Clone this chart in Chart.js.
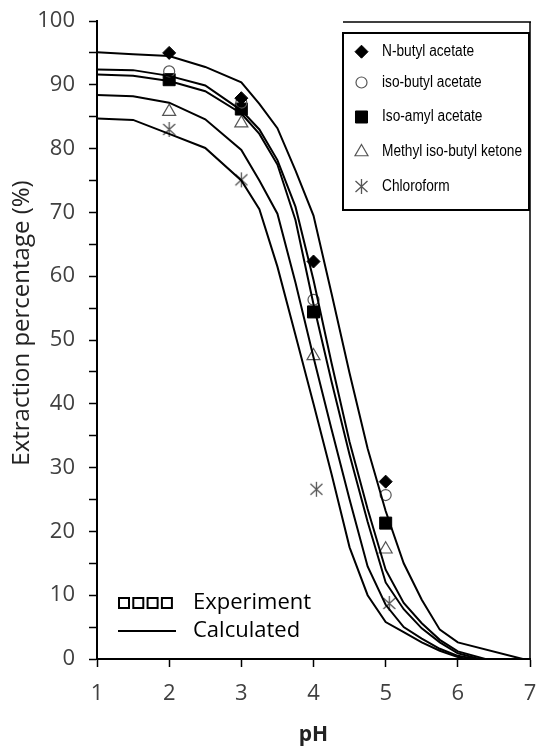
<!DOCTYPE html>
<html>
<head>
<meta charset="utf-8">
<script src="https://cdn.jsdelivr.net/npm/chart.js@4.4.1/dist/chart.umd.min.js"></script>
<style>
body{margin:0;background:#fff;overflow:hidden;}
#wrap{width:536px;height:747px;overflow:hidden;}
</style>
</head>
<body>
<div id="wrap"><canvas id="extractionChart" width="536" height="747"></canvas></div>
<script>
// solvents
const solvents = ['N-butyl acetate', 'iso-butyl acetate', 'Iso-amyl acetate', 'Methyl iso-butyl ketone', 'Chloroform'];

// experiment points
const expPH = [2, 3, 4, 5];
const expChloroPH = [2, 3, 4.04, 5.05];
const expNButyl = [95.0, 87.9, 62.3, 27.8];
const expIsoButyl = [92.1, 87.2, 56.3, 25.7];
const expIsoAmyl = [90.8, 86.2, 54.4, 21.3];
const expMIBK = [85.8, 84.0, 47.5, 17.2];
const expChloro = [83.0, 75.1, 26.6, 8.7];

// calculated curves
const calcPH = [1, 1.5, 2, 2.5, 3, 3.25, 3.5, 3.75, 4, 4.25, 4.5, 4.75, 5, 5.25, 5.5, 5.75, 6];
const calcNButyl = [95.1, 94.8, 94.5, 92.8, 90.4, 87.0, 83.2, 76.6, 69.5, 57.3, 44.8, 33.0, 23.2, 15.0, 9.3, 4.6, 2.6];
const calcIsoButyl = [92.4, 92.3, 91.4, 89.9, 86.0, 83.0, 78.2, 70.9, 59.4, 46.4, 34.0, 23.5, 14.0, 8.8, 5.6, 3.0, 1.2];
const calcIsoAmyl = [91.6, 91.4, 90.6, 89.0, 85.5, 82.3, 77.5, 68.8, 55.6, 43.5, 32.0, 21.5, 12.0, 7.8, 4.8, 2.6, 0.9];
const calcMIBK = [88.4, 88.2, 87.2, 84.6, 79.8, 75.0, 69.8, 59.0, 47.3, 36.0, 25.0, 14.5, 8.5, 5.0, 3.2, 1.6, 0.5];
const calcChloro = [84.7, 84.5, 82.3, 80.1, 75.0, 70.5, 61.5, 50.8, 40.0, 29.0, 17.5, 10.0, 5.8, 4.2, 2.6, 1.3, 0.3];
const calcZeroPH = [6.9, 6.38, 6.3, 6.25, 6.12];

// axis ticks
const xTicks = [1, 2, 3, 4, 5, 6, 7];
const yLabels = [0, 10, 20, 30, 40, 50, 60, 70, 80, 90, 100];

const grey = '#555555';

// asterisk marker (X + vertical bar)
function makeAsterisk(){
  let c = document.createElement('canvas');
  c.width = 17; c.height = 17;
  let g = c.getContext('2d');
  g.strokeStyle = grey;
  g.lineWidth = 1.3;
  g.beginPath();
  g.moveTo(2.5, 3); g.lineTo(14.5, 14);
  g.moveTo(14.5, 3); g.lineTo(2.5, 14);
  g.moveTo(8.5, 1); g.lineTo(8.5, 16);
  g.stroke();
  return c;
}
const asterisk = makeAsterisk();

const expSeries = [expNButyl, expIsoButyl, expIsoAmyl, expMIBK, expChloro];
const calcSeries = [calcNButyl, calcIsoButyl, calcIsoAmyl, calcMIBK, calcChloro];
const markerStyles = [
  {pointStyle: 'rectRot', pointRadius: 6.5, backgroundColor: '#000', borderColor: '#000', borderWidth: 1},
  {pointStyle: 'circle', pointRadius: 5.5, backgroundColor: 'rgba(0,0,0,0)', borderColor: grey, borderWidth: 1.2},
  {pointStyle: 'rect', pointRadius: 8.5, backgroundColor: '#000', borderColor: '#000', borderWidth: 1},
  {pointStyle: 'triangle', pointRadius: 7.5, backgroundColor: 'rgba(0,0,0,0)', borderColor: grey, borderWidth: 1.2},
  {pointStyle: asterisk, pointRadius: 8, backgroundColor: 'rgba(0,0,0,0)', borderColor: grey, borderWidth: 1}
];

let datasets = [];

calcSeries.forEach((vals, i) => {
  let pts = calcPH.map((p, k) => ({x: p, y: vals[k]}));
  pts.push({x: calcZeroPH[i], y: 0});
  datasets.push({
    label: solvents[i] + ' calc',
    data: pts,
    showLine: true,
    borderColor: '#000',
    borderWidth: 2,
    pointRadius: 0,
    tension: 0
  });
});

expSeries.forEach((vals, i) => {
  let xs = i == 4 ? expChloroPH : expPH;
  datasets.push(Object.assign({
    label: solvents[i],
    data: vals.map((v, k) => ({x: xs[k], y: v})),
    showLine: false
  }, markerStyles[i]));
});

// legend marker drawing
function drawMarker(ctx, i, x, y){
  let m = markerStyles[i];
  ctx.save();
  ctx.fillStyle = m.backgroundColor;
  ctx.strokeStyle = m.borderColor;
  ctx.lineWidth = m.borderWidth;
  let r = m.pointRadius;
  ctx.beginPath();
  if (m.pointStyle === 'rectRot') {
    ctx.moveTo(x - r, y); ctx.lineTo(x, y - r); ctx.lineTo(x + r, y); ctx.lineTo(x, y + r); ctx.closePath();
    ctx.fill(); ctx.stroke();
  } else if (m.pointStyle === 'circle') {
    ctx.arc(x, y, r, 0, Math.PI * 2); ctx.stroke();
  } else if (m.pointStyle === 'rect') {
    let s = r * Math.SQRT1_2;
    ctx.rect(x - s, y - s, 2 * s, 2 * s); ctx.fill(); ctx.stroke();
  } else if (m.pointStyle === 'triangle') {
    ctx.moveTo(x, y - r);
    ctx.lineTo(x + r * Math.sin(2 * Math.PI / 3), y + r / 2);
    ctx.lineTo(x - r * Math.sin(2 * Math.PI / 3), y + r / 2);
    ctx.closePath(); ctx.stroke();
  } else {
    ctx.drawImage(asterisk, x - asterisk.width / 2, y - asterisk.height / 2);
  }
  ctx.restore();
}

const decorPlugin = {
  id: 'decor',
  afterDraw(chart){
    const ctx = chart.ctx;
    const area = chart.chartArea;
    ctx.save();

    // right border + top strip
    ctx.strokeStyle = '#000';
    ctx.lineWidth = 1.5;
    ctx.beginPath();
    ctx.moveTo(area.right, 22);
    ctx.lineTo(area.right, area.bottom);
    ctx.moveTo(343, 22);
    ctx.lineTo(area.right + 1, 22);
    ctx.stroke();

    // solvent legend box
    ctx.fillStyle = '#fff';
    ctx.fillRect(343, 33, 186, 177);
    ctx.lineWidth = 2;
    ctx.strokeRect(343, 33, 186, 177);
    const rows = [51.7, 82.5, 117, 152, 186.5];
    ctx.fillStyle = '#000';
    ctx.font = '16px "Liberation Sans", Arial, sans-serif';
    ctx.textAlign = 'left';
    ctx.textBaseline = 'middle';
    // narrow the text like the original condensed face
    let squeeze = 140 / ctx.measureText(solvents[3]).width;
    solvents.forEach((s, i) => {
      drawMarker(ctx, i, 361.5, rows[i]);
      ctx.save();
      ctx.translate(382, rows[i]);
      ctx.scale(squeeze, 1);
      ctx.fillText(s, 0, 0);
      ctx.restore();
    });

    // experiment / calculated legend
    ctx.strokeStyle = '#000';
    ctx.lineWidth = 2;
    for (let k = 0; k < 4; k++) {
      ctx.strokeRect(119 + k * 14.3, 598, 10, 10);
    }
    ctx.beginPath();
    ctx.moveTo(118, 631);
    ctx.lineTo(176, 631);
    ctx.stroke();
    ctx.fillStyle = '#000';
    ctx.font = '22px "Open Sans", sans-serif';
    ctx.fillText('Experiment', 193, 603);
    ctx.fillText('Calculated', 193, 631);

    // axis titles
    ctx.fillStyle = '#222';
    ctx.textAlign = 'center';
    ctx.font = 'bold 21px "Open Sans", sans-serif';
    ctx.fillText('pH', (area.left + area.right) / 2, 735);
    ctx.translate(22, 323);
    ctx.rotate(-Math.PI / 2);
    ctx.font = '24px "Open Sans", sans-serif';
    ctx.fillText('Extraction percentage (%)', 0, 0);
    ctx.restore();
  }
};

const ctx1 = document.getElementById('extractionChart').getContext('2d');
const extractionChart = new Chart(ctx1, {
  type: 'scatter',
  data: { datasets: datasets },
  options: {
    responsive: false,
    animation: false,
    devicePixelRatio: 1,
    layout: { autoPadding: false, padding: { top: 21, right: 6, left: 0, bottom: 0 } },
    plugins: {
      legend: { display: false },
      tooltip: { enabled: false }
    },
    scales: {
      x: {
        type: 'linear',
        min: 1, max: 7,
        afterBuildTicks: s => { s.ticks = xTicks.map(v => ({value: v})); },
        afterFit: s => { s.height = 88; s.paddingLeft = 0; s.paddingRight = 0; },
        border: { color: '#000', width: 2 },
        grid: { drawOnChartArea: false, color: '#000', tickLength: 8, tickWidth: 1.5 },
        ticks: { color: '#404040', padding: 14, font: { family: 'Open Sans', size: 22 }, maxRotation: 0 }
      },
      y: {
        min: 0, max: 100,
        ticks: {
          stepSize: 5,
          color: '#404040',
          padding: 14,
          font: { family: 'Open Sans', size: 22 },
          callback: v => yLabels.includes(v) ? v : ''
        },
        afterFit: s => { s.width = 97; s.paddingTop = 0; s.paddingBottom = 0; },
        border: { color: '#000', width: 2 },
        grid: { drawOnChartArea: false, color: '#000', tickLength: 8, tickWidth: 1.5 }
      }
    }
  },
  plugins: [decorPlugin]
});
</script>
</body>
</html>
